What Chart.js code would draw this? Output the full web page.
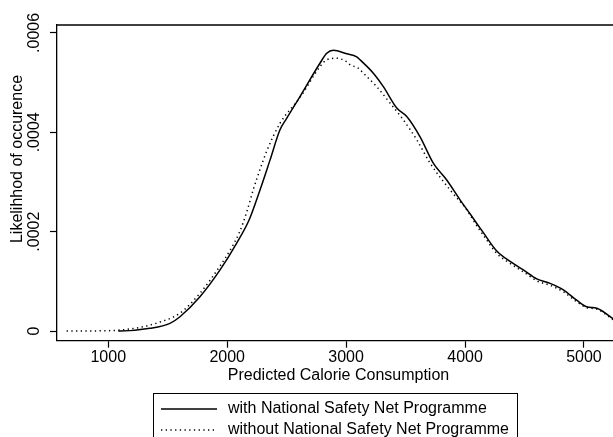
<!DOCTYPE html>
<html>
<head>
<meta charset="utf-8">
<script src="https://cdn.jsdelivr.net/npm/chart.js@4/dist/chart.umd.min.js"></script>
<style>
  html, body { margin: 0; padding: 0; background: #fff; overflow: hidden; }
  #wrap { width: 613px; height: 437px; overflow: hidden; position: relative; }
  canvas { display: block; }
</style>
</head>
<body>
<div id="wrap"><canvas id="c" width="640" height="437"></canvas></div>
<script>
// Kernel density of predicted calorie consumption, two groups
const withKcal = [1084, 1100, 1351, 1519, 1603, 1771, 1940, 2080, 2185, 2276, 2360, 2444, 2500, 2612, 2780, 2837, 2893, 3005, 3089, 3117, 3229, 3313, 3426, 3510, 3622, 3733, 3846, 3958, 4042, 4112, 4154, 4267, 4379, 4491, 4603, 4715, 4827, 4939, 5023, 5108, 5250];
const withDensity = [0, 0, 0.0000054, 0.0000155, 0.0000288, 0.000069, 0.000123, 0.000177, 0.000224, 0.000284, 0.000344, 0.000405, 0.000428, 0.000472, 0.000539, 0.000559, 0.000565, 0.000558, 0.000552, 0.000546, 0.000519, 0.000492, 0.000449, 0.000432, 0.000391, 0.000338, 0.000304, 0.000264, 0.000236, 0.000212, 0.000198, 0.000161, 0.00014, 0.000123, 0.000105, 0.000096, 0.000083, 0.000062, 0.000049, 0.000046, 0.000024];

const withoutKcal = [650, 930, 1209, 1435, 1603, 1771, 1940, 2030, 2100, 2165, 2220, 2280, 2332, 2444, 2612, 2780, 2837, 2921, 3005, 3033, 3103, 3145, 3257, 3369, 3481, 3594, 3706, 3874, 4014, 4112, 4154, 4267, 4379, 4491, 4603, 4715, 4827, 4939, 5023, 5108, 5250];
const withoutDensity = [0, 0.0000003, 0.000005, 0.000018, 0.000036, 0.000076, 0.000131, 0.000165, 0.000197, 0.00024, 0.000285, 0.000328, 0.000362, 0.000418, 0.00047, 0.000532, 0.000546, 0.000549, 0.000542, 0.000536, 0.000529, 0.000519, 0.000492, 0.000459, 0.000425, 0.000385, 0.000338, 0.000284, 0.000244, 0.000207, 0.000193, 0.000156, 0.000136, 0.000119, 0.000101, 0.000092, 0.000079, 0.000059, 0.000047, 0.000044, 0.000022];

const xTicks = [1000, 2000, 3000, 4000, 5000];
const yTicks = [0, 0.0002, 0.0004, 0.0006];

const seriesNames = ['with National Safety Net Programme', 'without National Safety Net Programme'];
const xTitle = 'Predicted Calorie Consumption';
const yTitle = 'Likelihhod of occurence';

const FONT = 'Liberation Sans, Arial, Helvetica, sans-serif';
const TEXT_SIZE = 16;
const INK = '#000';

const toPoints = (xs, ys) => xs.map((x, i) => ({ x: x, y: ys[i] }));

function fmtY(v) {
  if (Math.abs(v) < 1e-12) return '0';
  return v.toFixed(4).replace(/^0/, '');
}

// frame line along the top of the plot region, vertical axis title, and the legend box
const framePlugin = {
  id: 'frameAndKey',
  afterDraw(chart) {
    const { ctx, chartArea } = chart;
    ctx.save();
    ctx.strokeStyle = INK;
    ctx.lineWidth = 1.3;
    ctx.beginPath();
    ctx.moveTo(chartArea.left, chartArea.top);
    ctx.lineTo(chartArea.right, chartArea.top);
    ctx.lineTo(chartArea.right, chartArea.bottom);
    ctx.stroke();

    ctx.fillStyle = INK;
    ctx.font = TEXT_SIZE + 'px ' + FONT;

    // vertical axis title, reading upwards
    ctx.save();
    ctx.translate(18, 159);
    ctx.rotate(-Math.PI / 2);
    ctx.textAlign = 'center';
    ctx.textBaseline = 'middle';
    ctx.fillText(yTitle, 0, 0);
    ctx.restore();

    // legend
    ctx.lineWidth = 1;
    ctx.strokeRect(153.5, 393.5, 364, 60);
    ctx.lineWidth = 1.5;
    ctx.beginPath();
    ctx.setLineDash([]);
    ctx.moveTo(161, 409);
    ctx.lineTo(217, 409);
    ctx.stroke();
    ctx.beginPath();
    ctx.setLineDash([1.3, 3.4]);
    ctx.moveTo(161, 430);
    ctx.lineTo(217, 430);
    ctx.stroke();
    ctx.setLineDash([]);
    ctx.textAlign = 'left';
    ctx.textBaseline = 'middle';
    ctx.fillText(seriesNames[0], 228, 408.5);
    ctx.fillText(seriesNames[1], 228, 430);
    ctx.restore();
  }
};

new Chart(document.getElementById('c'), {
  type: 'line',
  data: {
    datasets: [
      {
        label: seriesNames[0],
        data: toPoints(withKcal, withDensity),
        borderColor: INK,
        borderWidth: 1.5,
        pointRadius: 0,
        fill: false,
        cubicInterpolationMode: 'monotone'
      },
      {
        label: seriesNames[1],
        data: toPoints(withoutKcal, withoutDensity),
        borderColor: INK,
        borderWidth: 1.5,
        borderDash: [1.3, 3.4],
        pointRadius: 0,
        fill: false,
        cubicInterpolationMode: 'monotone'
      }
    ]
  },
  options: {
    responsive: false,
    animation: false,
    events: [],
    layout: { padding: { top: 25, right: 20, left: 0, bottom: 0 } },
    plugins: {
      legend: { display: false },
      tooltip: { enabled: false }
    },
    scales: {
      x: {
        type: 'linear',
        min: 569,
        max: 5303,
        afterFit(s) { s.height = 96.3; },
        afterBuildTicks(s) { s.ticks = xTicks.map(v => ({ value: v })); },
        grid: { drawOnChartArea: false, drawTicks: true, tickLength: 7, tickColor: INK, tickWidth: 1.2 },
        border: { display: true, color: INK, width: 1.3 },
        ticks: { color: INK, font: { family: FONT, size: TEXT_SIZE }, padding: 0, maxRotation: 0, minRotation: 0, callback: v => String(v) },
        title: { display: true, text: xTitle, color: INK, font: { family: FONT, size: TEXT_SIZE }, padding: { top: 0, bottom: 51.9 } }
      },
      y: {
        type: 'linear',
        min: -0.0000195,
        max: 0.000616,
        afterFit(s) { s.width = 57; },
        afterBuildTicks(s) { s.ticks = yTicks.map(v => ({ value: v })); },
        grid: { drawOnChartArea: false, drawTicks: true, tickLength: 7, tickColor: INK, tickWidth: 1.2 },
        border: { display: true, color: INK, width: 1.3 },
        ticks: { color: INK, font: { family: FONT, size: TEXT_SIZE }, padding: -4.8, minRotation: 90, maxRotation: 90, crossAlign: 'center', callback: v => fmtY(v) },
        title: { display: false }
      }
    }
  },
  plugins: [framePlugin]
});
</script>
</body>
</html>
